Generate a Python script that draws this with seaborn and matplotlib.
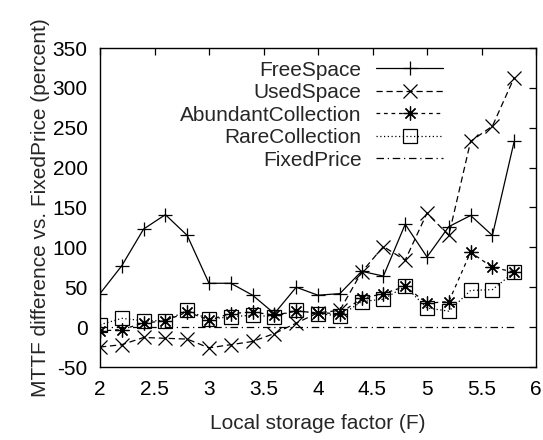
import matplotlib
matplotlib.use("Agg")
import matplotlib.pyplot as plt
import seaborn as sns
import pandas as pd

# storage factor values on the x axis
factor = [2.0, 2.2, 2.4, 2.6, 2.8, 3.0, 3.2, 3.4, 3.6, 3.8,
          4.0, 4.2, 4.4, 4.6, 4.8, 5.0, 5.2, 5.4, 5.6, 5.8]

# MTTF difference vs FixedPrice (percent)
free_space = [42, 77, 123, 141, 115, 55, 55, 40, 17, 50,
              40, 42, 70, 64, 129, 88, 126, 140, 115, 233]
used_space = [-25, -22, -13, -14, -15, -26, -22, -18, -8, 5,
              18, 21, 69, 101, 84, 143, 115, 233, 252, 313]
abundant_collection = [-5, -3, 5, 8, 19, 9, 17, 19, 15, 20,
                       18, 17, 36, 42, 51, 30, 32, 94, 75, 69]
rare_collection = [3, 11, 8, 8, 21, 10, 13, 15, 13, 21,
                   17, 14, 32, 35, 51, 24, 20, 46, 47, 69]
fixed_price = [0] * len(factor)

series = [
    ("FreeSpace", free_space, "-", "+"),
    ("UsedSpace", used_space, (0, (5, 3)), "x"),
    ("AbundantCollection", abundant_collection, (0, (3, 3)), (8, 2, 0)),
    ("RareCollection", rare_collection, (0, (1, 2)), "s"),
    ("FixedPrice", fixed_price, (0, (6, 3, 1, 3)), None),
]

sns.set_style("white")
plt.rcParams["font.family"] = ["Liberation Sans", "DejaVu Sans"]
plt.rcParams["axes.unicode_minus"] = False

fig = plt.figure(figsize=(5.43, 4.40), dpi=100)
ax = fig.add_axes([100 / 543, 1 - 367 / 440, 436 / 543, 319 / 440])

for name, vals, ls, mk in series:
    df = pd.DataFrame({"F": factor, "MTTF": vals})
    kw = dict(marker=mk, markersize=10, markerfacecolor="none",
              markeredgecolor="black", markeredgewidth=0.9) if mk else {}
    sns.lineplot(data=df, x="F", y="MTTF", ax=ax, color="black",
                 linestyle=ls, linewidth=0.9, label=name, **kw)

ax.set_xlim(2, 6)
ax.set_ylim(-50, 350)
ax.set_xticks([2, 2.5, 3, 3.5, 4, 4.5, 5, 5.5, 6])
ax.set_xticklabels(["2", "2.5", "3", "3.5", "4", "4.5", "5", "5.5", "6"])
ax.set_yticks(range(-50, 351, 50))
ax.tick_params(direction="in", length=5, width=0.9, labelsize=15,
               top=True, right=True, colors="black")
ax.tick_params(axis="x", pad=9)
ax.tick_params(axis="y", pad=9)
for s in ax.spines.values():
    s.set_color("black")
    s.set_linewidth(1.0)
ax.set_xlabel("Local storage factor (F)", fontsize=15, labelpad=11)
ax.set_ylabel("MTTF difference vs. FixedPrice (percent)", fontsize=15,
              labelpad=2)

leg = ax.legend(loc="upper right", bbox_to_anchor=(0.815, 1.0),
                frameon=False, markerfirst=False, fontsize=15,
                handlelength=3.2, labelspacing=0.17, handletextpad=0.7,
                borderaxespad=0.2)

fig.savefig("out.png", dpi=100)
plt.close(fig)
